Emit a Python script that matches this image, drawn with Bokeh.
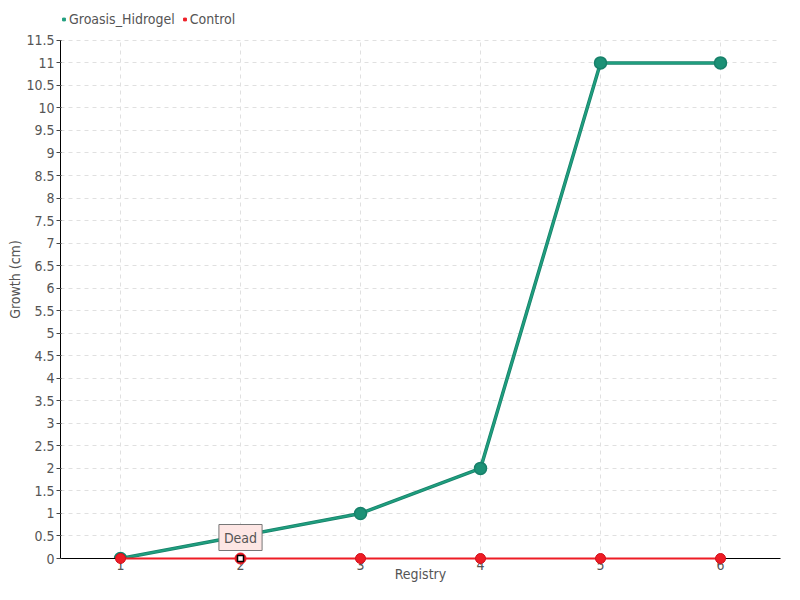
from bokeh.plotting import figure
from bokeh.models import (Range1d, FixedTicker, Legend, LegendItem, Label, ColumnDataSource)
from bokeh.embed import file_html
from bokeh.resources import INLINE

registry = [1, 2, 3, 4, 5, 6]
groasis_hidrogel = [0, 0.5, 1, 2, 11, 11]
control = [0, 0, 0, 0, 0, 0]
y_ticks = [i * 0.5 for i in range(24)]
x_ticks = [1, 2, 3, 4, 5, 6]
tooltip_text = "Dead"
tooltip_index = 1

FONT = "'DejaVu Sans Condensed', 'Liberation Sans Narrow', Roboto, sans-serif"
GREEN = "#1f9e7e"
GREEN_DARK = "#17806a"
RED = "#ee1c25"
TXT = "#555555"

PLOT_H = 520      # pixel height of the value area
TOP_PAD = 40      # pixels above the value area (legend space)
y_top = y_ticks[-1]
y_end = y_top * (PLOT_H + TOP_PAD) / PLOT_H

p = figure(width=784, height=584, output_backend="svg", toolbar_location=None,
           x_range=Range1d(0.5, 6.5), y_range=Range1d(0, y_end),
           min_border_left=60, min_border_right=4, min_border_top=0, min_border_bottom=24)
p.outline_line_color = None

p.ygrid.grid_line_color = "#e0e0e0"
p.ygrid.grid_line_dash = "4 4"
p.xgrid.visible = False
p.segment(x0=x_ticks, x1=x_ticks, y0=[y_ticks[0]] * len(x_ticks), y1=[y_top] * len(x_ticks),
          line_color="#e0e0e0", line_dash="4 4", line_width=1, level="underlay")

p.xaxis.ticker = FixedTicker(ticks=x_ticks)
p.yaxis.ticker = FixedTicker(ticks=y_ticks)
p.yaxis.bounds = (y_ticks[0], y_top)
p.yaxis.major_label_overrides = {v: ("%g" % v) for v in y_ticks}
p.xaxis.major_label_overrides = {v: str(v) for v in x_ticks}
p.xaxis.axis_label = "Registry"
p.yaxis.axis_label = "Growth (cm)"
for ax in (p.xaxis, p.yaxis):
    ax.axis_line_color = "black"
    ax.major_tick_line_color = "#444444"
    ax.minor_tick_line_color = None
    ax.major_label_text_font = FONT
    ax.major_label_text_font_size = "14px"
    ax.major_label_text_color = TXT
    ax.axis_label_text_font = FONT
    ax.axis_label_text_font_size = "14px"
    ax.axis_label_text_font_style = "normal"
    ax.axis_label_text_color = TXT
p.xaxis.major_tick_out = 6
p.xaxis.major_tick_in = 0
p.yaxis.major_tick_out = 4
p.yaxis.major_tick_in = 1
p.xaxis.major_label_standoff = -5
p.yaxis.major_label_standoff = 2
p.xaxis.axis_label_standoff = -7
p.yaxis.axis_label_standoff = 0

src = ColumnDataSource(dict(x=registry, g=groasis_hidrogel, c=control))

p.line("x", "g", source=src, line_color=GREEN_DARK, line_width=3.5)
p.line("x", "g", source=src, line_color=GREEN, line_width=2)
p.scatter("x", "g", source=src, size=12, fill_color="#1c9176", line_color=GREEN_DARK, line_width=1.5)

p.line("x", "c", source=src, line_color=RED, line_width=2, level="annotation")
p.scatter("x", "c", source=src, size=10, fill_color=RED, line_color="#d0101a", line_width=1,
          level="annotation")

hx = [registry[tooltip_index]]
hy = [control[tooltip_index]]
p.scatter(hx, hy, size=11, fill_color=RED, line_color=RED, fill_alpha=0.6, level="annotation")
p.scatter(hx, hy, marker="square", size=6, fill_color="white", line_color="black", line_width=1.5,
          level="annotation")

lab = Label(x=hx[0], y=hy[0], text=tooltip_text, x_offset=0, y_offset=8,
            text_align="center", text_baseline="bottom",
            text_font=FONT, text_font_size="14px", text_color=TXT,
            background_fill_color="#fde6e4", border_line_color="#777777",
            padding=5)
p.add_layout(lab)

sq_g = p.scatter(registry[:1], groasis_hidrogel[:1], marker="square", size=7,
                 fill_color=GREEN, line_color=GREEN, visible=False)
sq_c = p.scatter(registry[:1], control[:1], marker="square", size=7,
                 fill_color=RED, line_color=RED, visible=False)
legend = Legend(items=[LegendItem(label="Groasis_Hidrogel", renderers=[sq_g]),
                       LegendItem(label="Control", renderers=[sq_c])],
                orientation="horizontal", location=(0, PLOT_H + 9),
                label_text_font=FONT, label_text_font_size="14px",
                label_text_color=TXT, glyph_width=7, glyph_height=8,
                label_standoff=2, spacing=6, padding=0, margin=0,
                label_height=20, inactive_fill_alpha=0,
                border_line_color=None, background_fill_alpha=0)
p.add_layout(legend, "center")

open("out.html", "w").write(file_html(p, INLINE))
